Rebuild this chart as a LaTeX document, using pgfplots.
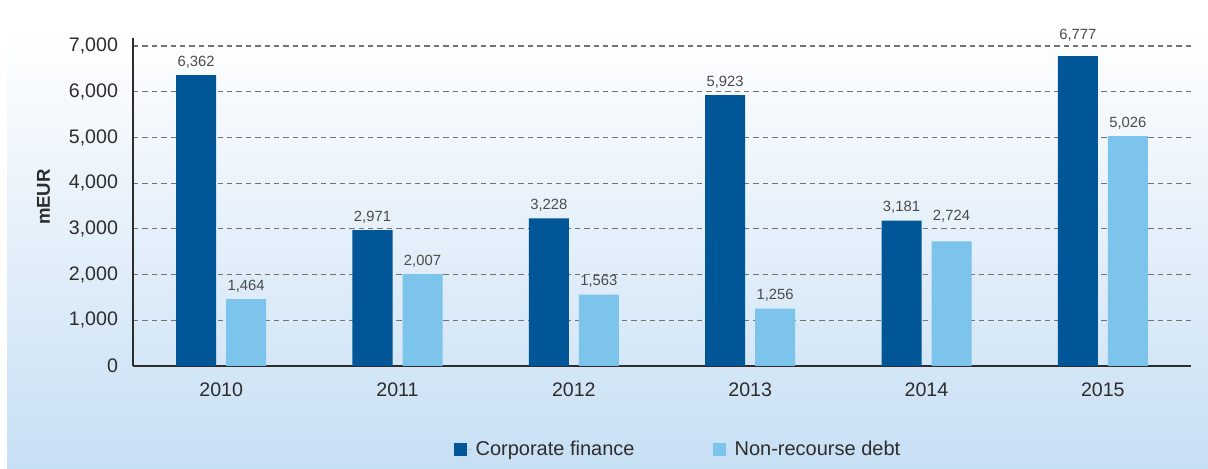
\documentclass[border=0pt]{standalone}
\usepackage{pgfplots}
\pgfplotsset{compat=1.18}
\usepackage{fontspec}
\setmainfont{Liberation Sans}
\definecolor{darkbar}{RGB}{0,86,150}
\definecolor{lightbar}{RGB}{125,196,236}
\definecolor{bgbottom}{RGB}{199,223,244}
\definecolor{txt}{RGB}{45,45,45}
\definecolor{lbl}{RGB}{75,75,75}
\definecolor{gridc}{RGB}{115,115,115}
\begin{document}
\begin{tikzpicture}
\path (0pt,0pt) rectangle (604pt,234.5pt);
\shade[top color=white, bottom color=bgbottom] (3.5pt,0pt) rectangle (604pt,220.5pt);
\begin{axis}[
  at={(66.5pt,51.5pt)}, anchor=south west,
  scale only axis, width=529pt, height=164pt,
  xmin=-0.5, xmax=5.5, ymin=0, ymax=7175,
  ybar=5pt, bar width=20pt,
  axis x line=bottom, axis y line=left,
  axis line style={-, color=txt, line width=0.8pt},
  xtick={0,1,2,3,4,5},
  xticklabels={2010,2011,2012,2013,2014,2015},
  ytick={0,1000,2000,3000,4000,5000,6000,7000},
  major tick length=0pt,
  ymajorgrids,
  major grid style={dash pattern=on 2.7pt off 2pt, color=gridc, line width=0.6pt},
  /pgf/number format/.cd, 1000 sep={,}, assume math mode=true, /pgfplots/.cd,
  tick label style={font=\fontsize{9.8}{11}\selectfont, text=txt},
  yticklabel style={xshift=-4pt},
  xticklabel style={yshift=-5pt},
  ylabel={\textbf{mEUR}},
  every axis y label/.style={at={(axis description cs:-0.0845,0.515)}, rotate=90, anchor=center,
     font=\fontsize{9.3}{11}\selectfont, text=txt},
  nodes near coords,
  every node near coord/.append style={font=\fontsize{7.4}{9}\selectfont, text=lbl},
  legend columns=2,
  legend style={at={(axis description cs:0.516,-0.256)}, anchor=center, draw=none, fill=none,
    font=\fontsize{10}{12}\selectfont, text=txt,
    /tikz/every even column/.append style={column sep=37pt}},
  legend image code/.code={\fill[#1,draw=none] (0pt,-3.2pt) rectangle (6.5pt,3.3pt);
     \path (0pt,0pt) -- (9pt,0pt);},
]
\addplot[fill=darkbar, draw=none, coordinate style/.condition={x==5}{yshift=4pt}]
  coordinates {(0,6362) (1,2971) (2,3228) (3,5923) (4,3181) (5,6777)};
\addplot[fill=lightbar, draw=none, coordinate style/.condition={x==4}{yshift=6pt}]
  coordinates {(0,1464) (1,2007) (2,1563) (3,1256) (4,2724) (5,5026)};
\legend{Corporate finance, Non-recourse debt}
\end{axis}
\end{tikzpicture}
\end{document}
